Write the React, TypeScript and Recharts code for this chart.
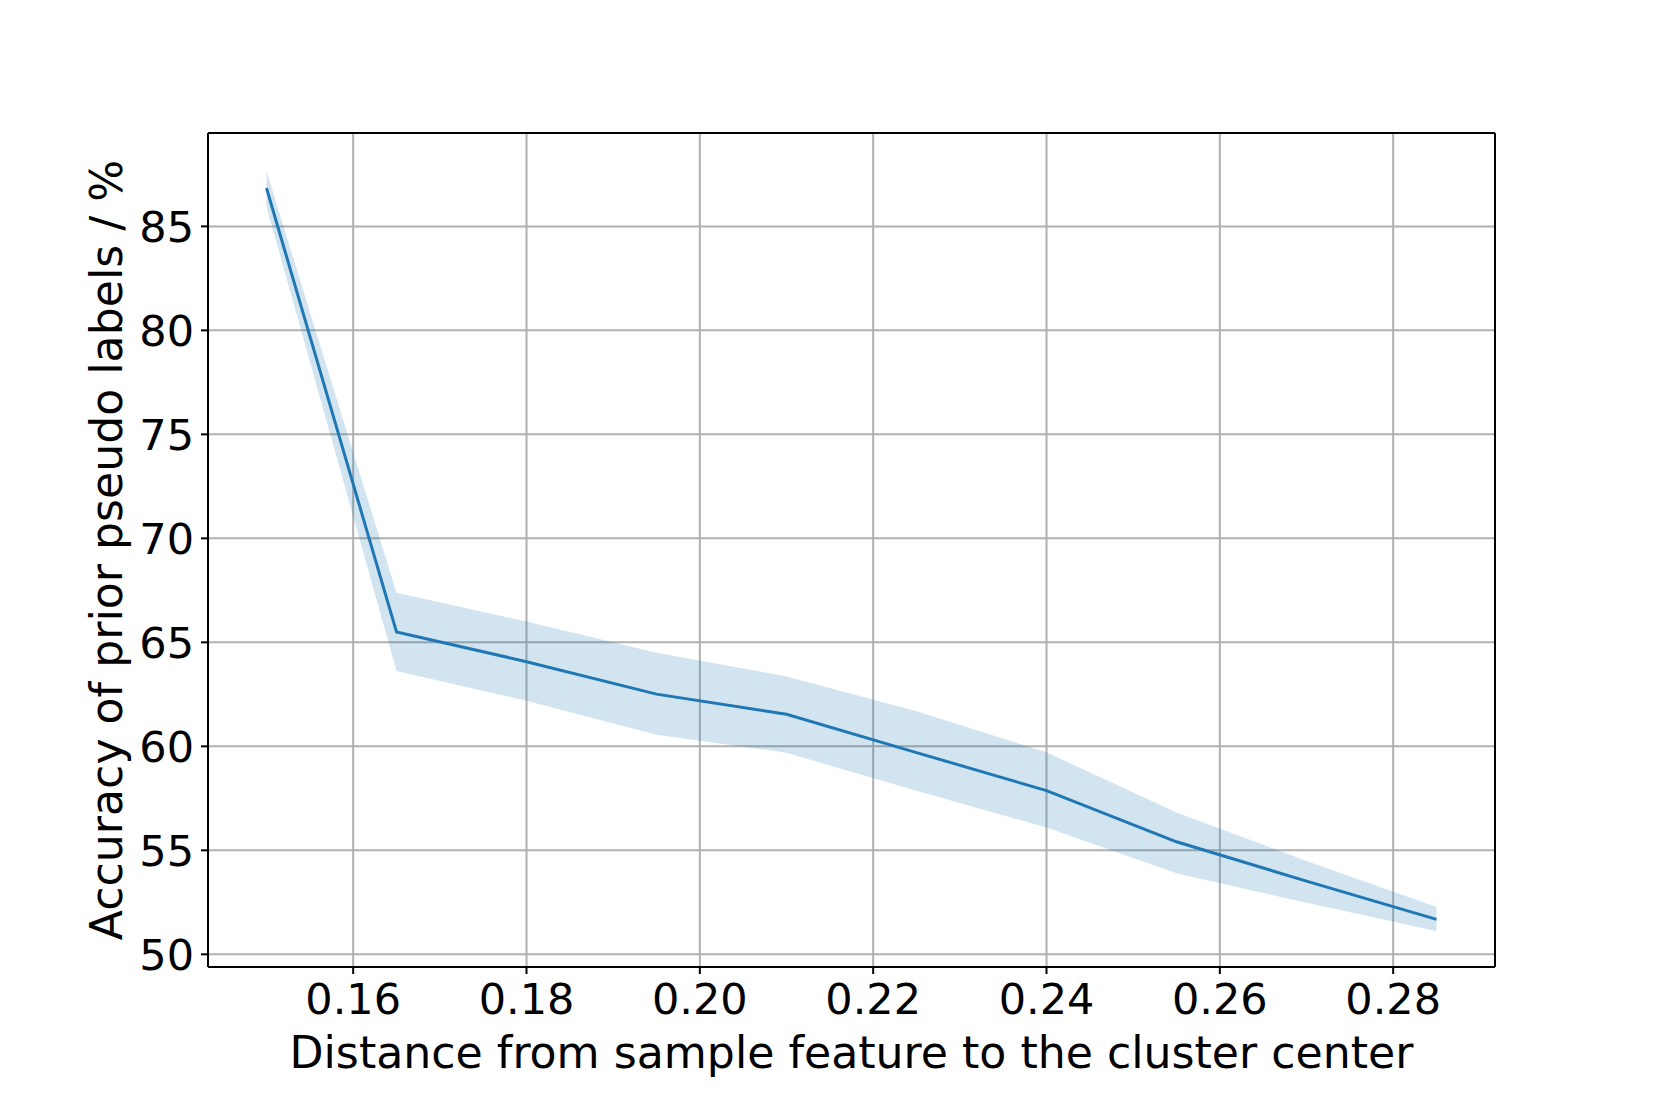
import React from 'react';
import { ComposedChart, Line, Area, XAxis, YAxis, CartesianGrid, ReferenceLine } from 'recharts';

const distances = [0.15, 0.165, 0.18, 0.195, 0.21, 0.225, 0.24, 0.255, 0.27, 0.285];
const meanAcc = [86.84, 65.5, 64.07, 62.51, 61.54, 59.7, 57.87, 55.41, 53.52, 51.68];
const upperAcc = [87.65, 67.38, 66.0, 64.5, 63.36, 61.69, 59.71, 56.82, 54.49, 52.27];
const lowerAcc = [85.95, 63.62, 62.19, 60.56, 59.69, 57.86, 56.1, 53.9, 52.48, 51.12];
const xTicks = [0.16, 0.18, 0.2, 0.22, 0.24, 0.26, 0.28];
const yTicks = [50, 55, 60, 65, 70, 75, 80, 85];
const xDomain = [0.14325, 0.29175];
const yDomain = [49.39, 89.49];

const xLabel = 'Distance from sample feature to the cluster center';
const yLabel = 'Accuracy of prior pseudo labels / %';

const data = distances.map((d, i) => ({
  x: d,
  mean: meanAcc[i],
  band: [lowerAcc[i], upperAcc[i]],
}));

const FONT = '"DejaVu Sans", sans-serif';
const FS = 43;
const LFS = 44.2;

const XLabelContent = (props: any) => {
  const vb = props.viewBox || {};
  const cx = vb.x + vb.width / 2;
  return (
    <text x={cx} y={1052} textAnchor="middle" dominantBaseline="central" fontFamily={FONT} fontSize={LFS} fill="#000">
      {xLabel}
    </text>
  );
};

const YLabelContent = (props: any) => {
  const vb = props.viewBox || {};
  const cy = vb.y + vb.height / 2;
  const cx = 106;
  return (
    <text x={cx} y={cy} transform={`rotate(-90, ${cx}, ${cy})`} textAnchor="middle" dominantBaseline="central" fontFamily={FONT} fontSize={LFS} fill="#000">
      {yLabel}
    </text>
  );
};

export default function App() {
  return (
    <div style={{ position: 'absolute', left: 0, top: 0, width: 1661, height: 1107, background: '#fff' }}>
      <ComposedChart
        width={1661}
        height={1107}
        data={data}
        margin={{ top: 133, right: 166, bottom: 10, left: 8 }}
      >
        <CartesianGrid stroke="#b0b0b0" strokeWidth={2} />
        <XAxis
          dataKey="x"
          type="number"
          domain={xDomain}
          ticks={xTicks}
          allowDataOverflow
          height={130}
          tickSize={7}
          tickMargin={9}
          tickFormatter={(v: number) => v.toFixed(2)}
          tick={{ fontFamily: FONT, fontSize: FS, fill: '#000' }}
          axisLine={{ stroke: '#000', strokeWidth: 2 }}
          tickLine={{ stroke: '#000', strokeWidth: 2 }}
          label={{ content: XLabelContent }}
        />
        <YAxis
          type="number"
          domain={yDomain}
          ticks={yTicks}
          allowDataOverflow
          width={200}
          tickSize={7}
          tickMargin={7}
          tick={{ fontFamily: FONT, fontSize: FS, fill: '#000' }}
          axisLine={{ stroke: '#000', strokeWidth: 2 }}
          tickLine={{ stroke: '#000', strokeWidth: 2 }}
          label={{ content: YLabelContent }}
        />
        <Area
          dataKey="band"
          type="linear"
          stroke="none"
          fill="#1f77b4"
          fillOpacity={0.2}
          isAnimationActive={false}
          activeDot={false}
        />
        <Line
          dataKey="mean"
          type="linear"
          stroke="#1f77b4"
          strokeWidth={3}
          dot={false}
          activeDot={false}
          isAnimationActive={false}
        />
        <ReferenceLine y={yDomain[1]} stroke="#000" strokeWidth={2} />
        <ReferenceLine x={xDomain[1]} stroke="#000" strokeWidth={2} />
      </ComposedChart>
    </div>
  );
}
